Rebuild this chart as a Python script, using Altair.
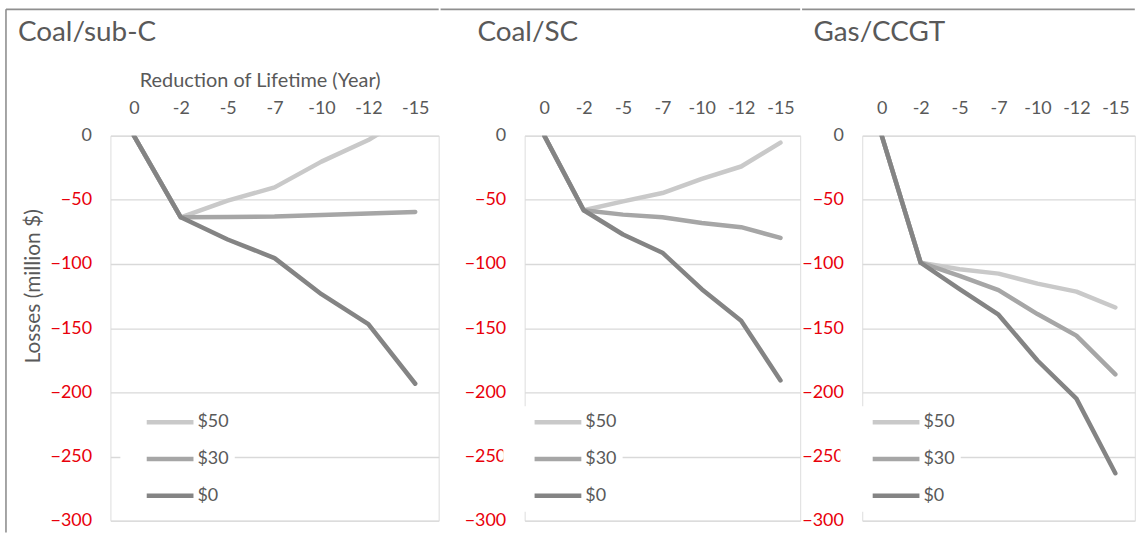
import altair as alt
import pandas as pd

# Reduction of plant lifetime (years), in axis order
years = ["0", "-2", "-5", "-7", "-10", "-12", "-15"]
prices = ["$50", "$30", "$0"]
price_colors = ["#c9c9c9", "#a6a6a6", "#848484"]
y_ticks = [0, -50, -100, -150, -200, -250, -300]

# Losses (million $) per carbon price
subc_50 = [0, -63.6, -50.6, -40.3, -20.2, -3.4, 19]
subc_30 = [0, -63.6, -63.3, -63.0, -61.8, -60.7, -59.4]
subc_0 = [0, -63.6, -80.9, -95.4, -123.5, -146.8, -193.3]

sc_50 = [0, -58.1, -51.2, -44.7, -33.6, -24.0, -5.4]
sc_30 = [0, -58.1, -61.5, -63.6, -68.0, -71.3, -79.6]
sc_0 = [0, -58.1, -77.0, -91.2, -119.6, -144.2, -190.7]

ccgt_50 = [0, -99.0, -104.1, -107.5, -115.3, -121.5, -133.9]
ccgt_30 = [0, -99.0, -109.3, -120.4, -139.0, -155.8, -186.0]
ccgt_0 = [0, -99.0, -119.6, -139.5, -175.2, -204.9, -263.0]

FONT = "Lato"
TEXT = "#595959"
RED = "#e8000b"
FRAME = "#8f8f8f"
HEIGHT = 387
TICK_SIZE = 18
TITLE_SIZE = 28


def table(series):
    rows = []
    for price, values in zip(prices, series):
        for year, loss in zip(years, values):
            rows.append({"year": year, "price": price, "loss": loss})
    return pd.DataFrame(rows)


def frame_layer(x, x2=None, y=None, y2=None):
    enc = {"x": alt.value(x), "y": alt.value(y)}
    if x2 is not None:
        enc["x2"] = alt.value(x2)
    if y2 is not None:
        enc["y2"] = alt.value(y2)
    return alt.Chart(alt.Data(values=[{}])).mark_rule(
        color=FRAME, strokeWidth=1.6
    ).encode(**enc)


def panel(title, series, width, title_dx, legend_x, sym_off, lab_off,
          extent, top_x1, top_x2, first=False):
    x_axis = alt.Axis(
        orient="top", labelAngle=0, labelFontSize=TICK_SIZE, labelColor=TEXT,
        labelFont=FONT, labelPadding=22, labelBaseline="alphabetic",
        grid=False, domain=False, ticks=False,
        title="Reduction of Lifetime (Year)" if first else None,
        titleFont=FONT, titleFontSize=20, titleFontWeight="normal",
        titleColor=TEXT, titleX=150, titleY=-49.5, titleBaseline="alphabetic",
    )
    y_axis = alt.Axis(
        values=y_ticks, grid=True, gridColor="#d9d9d9", gridWidth=1.3,
        domain=False, ticks=False, labelPadding=19, labelFontSize=TICK_SIZE,
        labelFont=FONT,
        labelColor={"condition": {"test": "datum.value < 0", "value": RED},
                    "value": TEXT},
        minExtent=extent, maxExtent=extent,
        title="Losses (million $)" if first else None,
        titleFont=FONT, titleFontSize=21, titleFontWeight="normal",
        titleColor=TEXT, titleX=-71, titleY=151, titleAngle=-90,
        titleAlign="center", titleBaseline="alphabetic",
    )
    legend = alt.Legend(
        title=None, orient="none", legendX=legend_x, legendY=272,
        symbolType="stroke", symbolSize=2209, symbolStrokeWidth=4.5,
        clipHeight=20, rowPadding=17, padding=6, fillColor="white",
        symbolOffset=sym_off, labelOffset=lab_off, labelFont=FONT,
        labelFontSize=TICK_SIZE, labelColor=TEXT,
    )
    lines = alt.Chart(table(series)).mark_line(
        strokeWidth=4.5, strokeCap="round", strokeJoin="round", clip=True
    ).encode(
        x=alt.X("year:N", sort=years,
                scale=alt.Scale(type="point", padding=0.5), axis=x_axis),
        y=alt.Y("loss:Q", scale=alt.Scale(domain=[-300, 0], nice=False),
                axis=y_axis),
        color=alt.Color("price:N", sort=prices,
                        scale=alt.Scale(domain=prices, range=price_colors),
                        legend=legend),
        order=alt.Order("order:Q"),
    ).transform_calculate(
        order="indexof(['$50', '$30', '$0'], datum.price)"
    )
    layers = [frame_layer(top_x1, x2=top_x2, y=-127)]
    if first:
        layers.append(frame_layer(-105, y=-127, y2=399))
    layers.append(lines)
    return alt.layer(*layers).properties(
        width=width, height=HEIGHT,
        title=alt.TitleParams(
            title, anchor="start", frame="group", dx=title_dx,
            offset=-61, fontSize=TITLE_SIZE, font=FONT, color=TEXT,
            fontWeight="normal", baseline="alphabetic",
        ),
    )


p1 = panel("Coal/sub-C", [subc_50, subc_30, subc_0], 330, -93,
           10, 18, 1.5, 60, -105, 330, first=True)
p2 = panel("Coal/SC", [sc_50, sc_30, sc_0], 277, -47.5,
           -21.5, 23, 1.5, 84.5, -84.5, 277)
p3 = panel("Gas/CCGT", [ccgt_50, ccgt_30, ccgt_0], 274, -49,
           -22, 24, 1.5, 60.5, -60.5, 274)

chart = alt.hconcat(p1, p2, p3, spacing=-1.6).resolve_scale(
    color="independent", x="independent", y="independent"
).resolve_legend(color="independent").properties(
    padding={"left": 4, "top": 6, "right": 0, "bottom": 0}
).configure_view(stroke=None).configure(font=FONT)

chart.save("out.html", embed_options={"renderer": "svg", "actions": False})
